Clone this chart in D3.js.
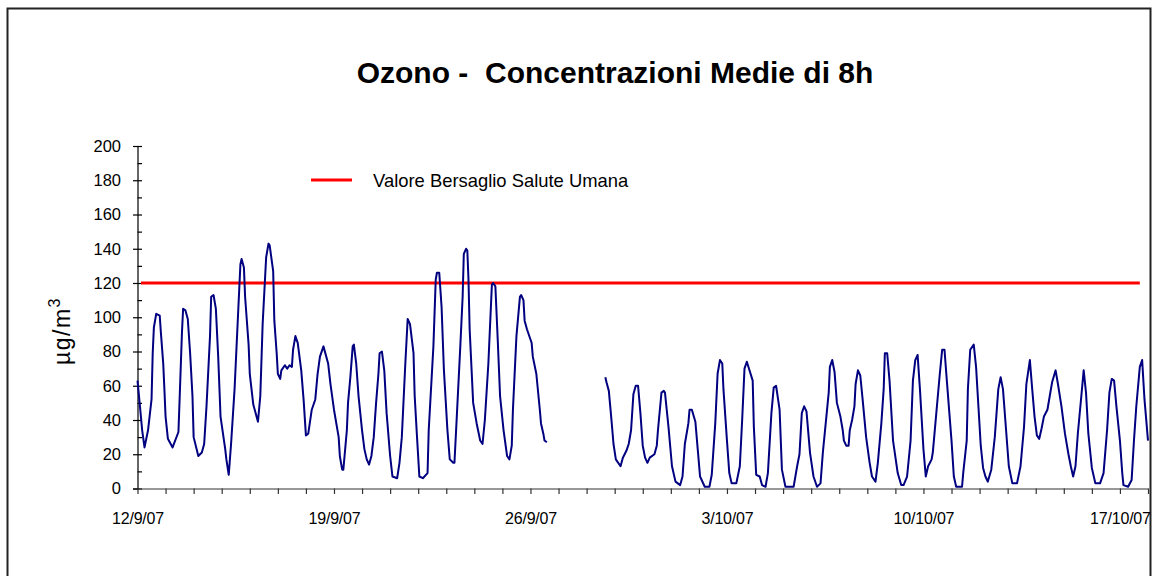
<!DOCTYPE html>
<html><head><meta charset="utf-8">
<script src="https://cdn.jsdelivr.net/npm/d3@7"></script>
<style>
html,body{margin:0;padding:0;background:#fff;}
svg{display:block;font-family:"Liberation Sans",Arial,sans-serif;}
</style></head>
<body>
<svg id="chart" width="1152" height="576"></svg>
<script>
// ---- data ----
const chartTitle = "Ozono -  Concentrazioni Medie di 8h";
const yAxisTitle = "µg/m";
const yAxisTitleSup = "3";
const legendLabel = "Valore Bersaglio Salute Umana";
const startDate = "2007-09-12";
const endDate = "2007-10-18";
const xTickLabels = ["12/9/07","19/9/07","26/9/07","3/10/07","10/10/07","17/10/07"];
const yTicks = [0,20,40,60,80,100,120,140,160,180,200];
const targetValue = 120;
const targetHours = [3, 857];

// hours since 12/9/07 00:00 and 8h mean ozone (µg/m3), first block
const seg1Hours = [0,1,4,6,9,12,13,14,16,19,20,22,23,24,26,30,35,36,38,39,41,43,45,47,48,52,55,57,59,62,63,65,67,69,71,75,76,78,80,83,86,88,89,91,92,95,96,99,103,105,107,110,112,113,116,117,119,120,122,123,126,128,130,132,133,135,137,140,142,144,146,149,152,154,156,159,163,165,168,172,173,175,176,179,180,182,184,185,187,189,192,194,196,198,200,202,204,206,207,209,211,213,216,218,222,224,226,229,231,233,236,237,239,241,244,248,249,253,255,256,258,260,262,265,267,270,271,273,276,278,279,281,282,283,284,287,290,293,295,297,300,303,304,306,308,310,313,316,318,320,321,324,327,328,330,331,333,336,337,338,341,344,345,347,348,350];
const seg1Values = [63,56,34,24,34,52,79,94,102,101,91,73,58,42,29,24,33,52,91,105,104,99,79,54,30,19,21,26,48,89,112,113,105,77,42,23,17,8,26,58,102,131,134,129,112,84,67,49,39,54,96,135,143,142,127,98,79,67,64,69,72,70,72,71,81,89,85,69,52,31,32,46,52,67,77,83,73,61,46,30,19,11,11,34,50,65,83,84,73,54,34,23,17,14,19,30,50,67,79,80,69,44,19,7,6,15,30,73,99,96,79,54,30,7,6,9,34,83,122,126,126,106,69,34,17,15,15,42,83,112,137,140,139,122,93,50,38,28,26,40,73,119,120,118,87,54,34,19,17,25,46,89,112,113,110,98,93,87,85,77,67,46,38,32,28,27];

// second block (after the gap)
const seg2Hours = [400,401,403,405,407,409,413,415,418,420,422,424,426,428,430,432,434,436,438,442,444,445,448,450,451,454,457,460,464,466,468,471,472,474,477,479,481,485,489,491,494,496,498,500,501,504,506,508,512,515,517,519,521,526,527,529,532,534,537,539,542,544,546,549,551,554,561,564,566,568,570,572,575,578,581,584,586,589,591,592,594,596,598,601,603,604,606,608,609,611,613,614,616,618,620,623,626,628,631,633,636,638,639,641,643,646,650,653,655,658,661,663,665,667,669,672,674,676,679,680,683,686,688,690,692,696,698,700,705,706,709,710,712,715,717,719,721,723,725,727,730,733,736,738,740,742,745,748,752,755,758,760,763,765,767,769,771,773,775,778,780,782,785,787,790,793,796,798,800,802,804,807,809,811,813,816,819,823,826,829,831,833,835,837,840,842,843,847,850,852,854,857,859,861,864];
const seg2Values = [65,62,57,42,26,17,13,18,22,26,34,55,60,60,44,25,18,15,18,20,25,34,56,57,56,36,13,4,2,7,26,38,46,46,39,23,7,1,1,8,38,67,75,73,58,28,9,3,3,13,40,70,74,63,36,8,7,2,1,9,44,59,60,46,11,1,1,13,20,44,48,45,21,7,1,3,21,42,56,71,75,68,50,42,34,28,25,25,34,40,48,61,69,66,52,30,15,7,4,15,38,58,79,79,63,28,9,2,2,7,28,63,75,78,58,23,7,13,17,21,44,67,81,81,63,28,7,1,1,9,28,58,81,84,71,48,25,12,7,4,11,30,58,65,58,40,13,3,3,13,36,61,75,58,42,31,29,35,42,46,54,62,69,61,48,32,20,13,7,13,32,54,69,56,32,12,3,3,9,34,56,64,63,48,28,9,2,1,5,28,48,71,75,52,28];

// ---- drawing ----
const svg = d3.select("#chart");
const t0 = new Date(startDate + "T00:00:00Z");
const t1 = new Date(endDate + "T00:00:00Z");
const hourToDate = h => new Date(t0.getTime() + h * 3600e3);

const x = d3.scaleUtc().domain([t0, t1]).range([137.5, 1148]);
const y = d3.scaleLinear().domain([0, 200]).range([488.5, 146]);

// frame
svg.append("rect").attr("x", 7.5).attr("y", 8.5).attr("width", 1143).attr("height", 620)
  .attr("fill", "none").attr("stroke", "#222").attr("stroke-width", 2);

// title
svg.append("text").attr("x", 615).attr("y", 83).attr("text-anchor", "middle")
  .attr("font-size", 30).attr("font-weight", "bold").attr("fill", "#000")
  .style("white-space", "pre").attr("xml:space", "preserve").text(chartTitle);

// y axis (major ticks crossing the axis)
const yAxisG = svg.append("g").attr("transform", "translate(137.5,0)")
  .call(d3.axisLeft(y).tickValues(yTicks).tickSize(4.5).tickPadding(12).tickFormat(d3.format("d")));
yAxisG.select(".domain").attr("stroke", "#000").attr("stroke-width", 1.2);
yAxisG.selectAll(".tick line").attr("x1", 4.5).attr("stroke", "#000").attr("stroke-width", 1.2);
yAxisG.selectAll(".tick text").attr("font-size", 16.5).attr("font-family", "Liberation Sans, Arial, sans-serif").attr("fill", "#000");
// minor ticks
const minorTicks = yTicks.slice(0, -1).map(v => v + 10);
const yMinorG = svg.append("g").attr("transform", "translate(137.5,0)")
  .call(d3.axisRight(y).tickValues(minorTicks).tickSize(4.5).tickFormat(""));
yMinorG.select(".domain").remove();
yMinorG.selectAll(".tick line").attr("stroke", "#000").attr("stroke-width", 1.2);

// x axis
const dayTicks = d3.utcDay.range(t0, d3.utcDay.offset(t1, 1));
const xAxisG = svg.append("g").attr("transform", "translate(0,488.5)")
  .call(d3.axisBottom(x).tickValues(dayTicks).tickSize(5.5).tickSizeOuter(0).tickPadding(19)
    .tickFormat((d, i) => (i % 7 === 0 ? xTickLabels[i / 7] || "" : "")));
xAxisG.select(".domain").attr("stroke", "#333").attr("stroke-width", 1.2);
xAxisG.selectAll(".tick line").attr("stroke", "#333").attr("stroke-width", 1.2);
xAxisG.selectAll(".tick text").attr("font-size", 16).attr("font-family", "Liberation Sans, Arial, sans-serif")
  .attr("fill", "#000").attr("letter-spacing", -0.2);

// y axis title
const yt = svg.append("text").attr("transform", "translate(70,331) rotate(-90)")
  .attr("text-anchor", "middle").attr("font-size", 23).attr("letter-spacing", 1.5).attr("fill", "#000");
yt.append("tspan").text(yAxisTitle);
yt.append("tspan").attr("dy", -10).attr("font-size", 16).text(yAxisTitleSup);

// target line
const line = d3.line().defined(d => d.v != null).x(d => x(d.t)).y(d => y(d.v));
svg.append("path")
  .datum(targetHours.map(h => ({ t: hourToDate(h), v: targetValue })))
  .attr("d", line).attr("fill", "none").attr("stroke", "#ff0000").attr("stroke-width", 3);

// ozone series
const series = [];
seg1Hours.forEach((h, i) => series.push({ t: hourToDate(h), v: seg1Values[i] }));
series.push({ t: hourToDate(375), v: null });
seg2Hours.forEach((h, i) => series.push({ t: hourToDate(h), v: seg2Values[i] }));
svg.append("path").datum(series).attr("d", line)
  .attr("fill", "none").attr("stroke", "#000080").attr("stroke-width", 2).attr("stroke-linejoin", "round");

// legend
svg.append("line").attr("x1", 311).attr("x2", 352).attr("y1", 180).attr("y2", 180)
  .attr("stroke", "#ff0000").attr("stroke-width", 3);
svg.append("text").attr("x", 373).attr("y", 186.5).attr("font-size", 18.4).attr("fill", "#000")
  .text(legendLabel);
</script>
</body></html>
